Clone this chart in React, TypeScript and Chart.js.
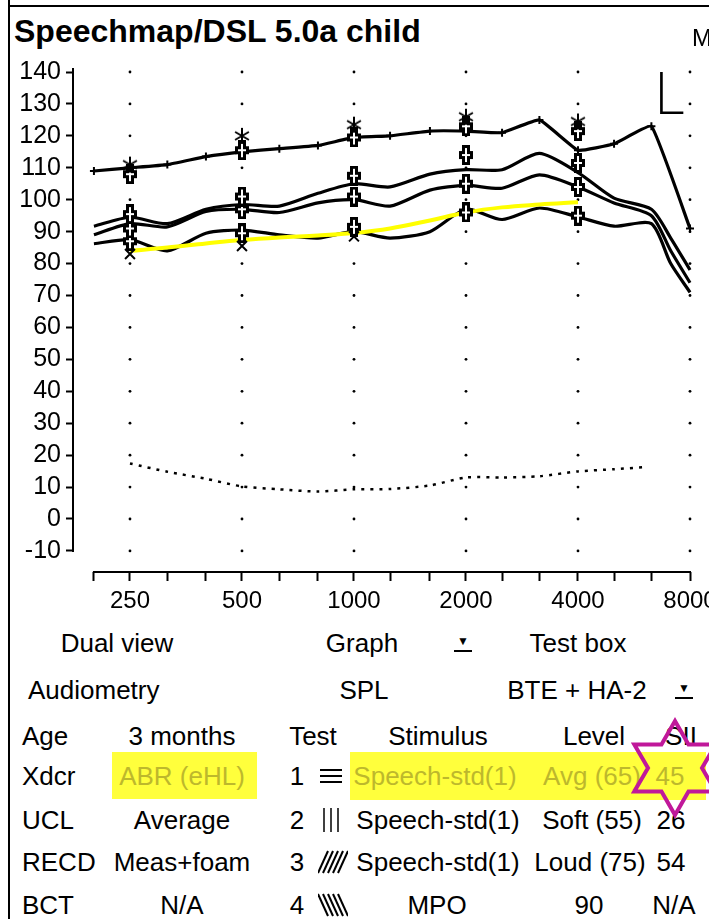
import React, { useEffect, useRef } from "react";
import { Chart, registerables } from "chart.js";
Chart.register(...registerables);

// ---------- data ----------
const thirdOctaveTicks = [200, 250, 315, 400, 500, 630, 800, 1000, 1250, 1600, 2000, 2500, 3150, 4000, 5000, 6300, 8000];
const octaveFreqs = [250, 500, 1000, 2000, 4000, 8000];
const octaveLabels = ["250", "500", "1000", "2000", "4000", "8000"];
const levelTicks = [140, 130, 120, 110, 100, 90, 80, 70, 60, 50, 40, 30, 20, 10, 0, -10];

const mpoFreqs = [200, 250, 315, 400, 500, 630, 800, 1000, 1250, 1600, 2000, 2500, 3150, 4000, 5000, 6300, 8000];
const mpoValues = [109, 110, 111, 113.5, 115, 116, 117, 119.5, 120, 121.5, 121.5, 121, 125, 115.5, 117.5, 123, 91];

const speechFreqs = [200, 250, 315, 400, 500, 630, 800, 1000, 1250, 1600, 2000, 2500, 3150, 4000, 5000, 6300, 7100, 8000];
const loudValues = [91.7, 94.5, 92.5, 97, 98.5, 98, 102, 105, 104, 108, 109.4, 109.4, 114.5, 108.5, 100.5, 97, 88, 78];
const avgValues = [89, 92.5, 91.5, 96.3, 97, 96, 99, 100, 98, 103, 104.5, 103.6, 107.8, 104, 99, 95, 84, 74];
const softValues = [86.2, 87.5, 84, 89.5, 90.5, 89, 88, 90, 88, 90, 97, 93.8, 97.4, 94.6, 91.7, 92.5, 80, 71];

const targetLineFreqs = [250, 315, 400, 500, 630, 800, 1000, 1250, 1600, 2000, 2500, 3150, 4000];
const targetLineValues = [84, 85, 86.3, 87.4, 88.2, 88.8, 89.6, 91, 93.5, 96, 97.6, 98.5, 99.2];

const thresholdFreqs = [250, 315, 400, 500, 630, 800, 1000, 1250, 1600, 2000, 2500, 3150, 4000, 5000, 6000];
const thresholdValues = [17.4, 14.8, 12.6, 10.2, 9.3, 8.6, 9.3, 9.4, 10.5, 13, 13, 13.4, 14.9, 15.6, 16.2];

const targetFreqs = [250, 500, 1000, 2000, 4000];
const uclTargets = [111, 120, 123.5, 126, 124.5];
const mpoTargets = [108, 115.5, 119.5, 123, 121.5];
const loudTargets = [95.5, 101, 107.5, 114, 111.5];
const avgTargets = [91, 97, 101, 105, 104];
const softTargets = [87, 89.5, 91.5, 96, 95];
const softXFreqs = [250, 500, 1000];
const softXValues = [83, 85.5, 88.5];

const FONT = '"Liberation Sans", Arial, sans-serif';

const pts = (xs: number[], ys: number[]) => xs.map((x, i) => ({ x, y: ys[i] }));

function makeBoxPlus() {
  const c = document.createElement("canvas");
  c.width = 14; c.height = 20;
  const g = c.getContext("2d")!;
  g.fillStyle = "#000";
  g.fillRect(3, 0, 8, 20);
  g.fillRect(0, 6, 14, 8);
  g.fillStyle = "#fff";
  g.fillRect(6, 3, 2, 14);
  g.fillRect(3, 9, 8, 2);
  return c;
}
function makeAsterisk() {
  const c = document.createElement("canvas");
  c.width = 18; c.height = 18;
  const g = c.getContext("2d")!;
  g.strokeStyle = "#000"; g.lineWidth = 2;
  g.beginPath();
  [90, 30, 150].forEach((a) => {
    const r = (a * Math.PI) / 180;
    g.moveTo(9 + 8 * Math.cos(r), 9 - 8 * Math.sin(r));
    g.lineTo(9 - 8 * Math.cos(r), 9 + 8 * Math.sin(r));
  });
  g.stroke();
  return c;
}

const axisLines = {
  id: "axisLines",
  afterDraw(chart: any) {
    const { ctx, chartArea, scales } = chart;
    const x = scales.x, y = scales.y;
    ctx.save();
    ctx.strokeStyle = "#000";
    ctx.lineWidth = 2;
    ctx.beginPath();
    ctx.moveTo(chartArea.left, y.getPixelForValue(levelTicks[0]) - 4);
    ctx.lineTo(chartArea.left, y.getPixelForValue(levelTicks[levelTicks.length - 1]) + 1);
    ctx.moveTo(x.getPixelForValue(thirdOctaveTicks[0]) - 1, chartArea.bottom);
    ctx.lineTo(x.getPixelForValue(thirdOctaveTicks[thirdOctaveTicks.length - 1]) + 1, chartArea.bottom);
    ctx.stroke();
    ctx.restore();
  },
};

function SpeechChart() {
  const ref = useRef<HTMLCanvasElement | null>(null);
  useEffect(() => {
    if (!ref.current) return;
    const boxPlus = makeBoxPlus();
    const aster = makeAsterisk();
    const gridDots: { x: number; y: number }[] = [];
    octaveFreqs.forEach((f) => levelTicks.forEach((l) => gridDots.push({ x: f, y: l })));
    const line = (data: any, extra: any = {}) => ({
      data, borderColor: "#000", borderWidth: 3.2, pointRadius: 0, tension: 0.25, fill: false, clip: false, ...extra,
    });
    const marks = (data: any, style: any, extra: any = {}) => ({
      data, showLine: false, pointStyle: style, pointRadius: 8, borderColor: "#000", backgroundColor: "#000", clip: false, ...extra,
    });
    const chart = new Chart(ref.current, {
      type: "line",
      data: {
        datasets: [
          marks(gridDots, "circle", { pointRadius: 1.4, borderWidth: 0, order: 20 }),
          line(pts(thresholdFreqs, thresholdValues), { borderWidth: 2.5, borderDash: [3, 6], order: 15 }),
          line(pts(mpoFreqs, mpoValues), { tension: 0.1, pointStyle: "cross", pointRadius: 4, pointBorderWidth: 2, order: 10 }),
          line(pts(speechFreqs, loudValues), { order: 9 }),
          line(pts(speechFreqs, avgValues), { order: 8 }),
          line(pts(speechFreqs, softValues), { order: 7 }),
          line(pts(targetLineFreqs, targetLineValues), { borderColor: "#ffff00", borderWidth: 4, tension: 0.4, order: 3 }),
          marks(pts(targetFreqs, uclTargets), aster, { order: 2 }),
          marks(pts(targetFreqs, mpoTargets), boxPlus, { order: 2 }),
          marks(pts(targetFreqs, loudTargets), boxPlus, { order: 2 }),
          marks(pts(targetFreqs, avgTargets), boxPlus, { order: 2 }),
          marks(pts(targetFreqs, softTargets), boxPlus, { order: 2 }),
          marks(pts(softXFreqs, softXValues), "crossRot", { pointRadius: 7, borderWidth: 2, order: 1 }),
        ],
      },
      options: {
        animation: false,
        responsive: false,
        devicePixelRatio: 1,
        events: [],
        layout: { padding: { top: 22, right: 40, left: 0, bottom: 0 } },
        plugins: { legend: { display: false }, tooltip: { enabled: false } },
        scales: {
          x: {
            type: "logarithmic",
            min: 175.7,
            max: 8000,
            afterBuildTicks: (s: any) => { s.ticks = thirdOctaveTicks.map((v) => ({ value: v })); },
            afterFit: (s: any) => { s.height = 53; },
            grid: { drawOnChartArea: false, drawTicks: true, tickLength: 9, color: "#000", tickWidth: 2 },
            border: { display: false },
            ticks: {
              autoSkip: false, maxRotation: 0, minRotation: 0, padding: 6, color: "#000",
              font: { family: FONT, size: 24 },
              callback: (v: any) => {
                const i = octaveFreqs.indexOf(Number(v));
                return i >= 0 ? octaveLabels[i] : "";
              },
            },
          },
          y: {
            min: -16.6,
            max: 140,
            afterBuildTicks: (s: any) => { s.ticks = levelTicks.map((v) => ({ value: v })); },
            afterFit: (s: any) => { s.width = 73; },
            grid: { drawOnChartArea: false, drawTicks: true, tickLength: 7, color: "#000", tickWidth: 2 },
            border: { display: false },
            ticks: { autoSkip: false, padding: 5, color: "#000", font: { family: FONT, size: 25 }, callback: (v: any) => String(v) },
          },
        },
      },
      plugins: [axisLines],
    } as any);
    return () => chart.destroy();
  }, []);
  return <canvas ref={ref} width={730} height={575} style={{ position: "absolute", left: 0, top: 50, width: 730, height: 575 }} />;
}

function T({ x, y, c, children, style }: any) {
  return (
    <span
      style={{
        position: "absolute", left: x, top: y, transform: c ? "translate(-50%,-50%)" : "translateY(-50%)",
        whiteSpace: "nowrap", fontFamily: FONT, fontSize: 26, lineHeight: 1, color: "#000", ...style,
      }}
    >
      {children}
    </span>
  );
}

function Pattern({ kind, x, y }: any) {
  const lines: any[] = [];
  if (kind === 1) [9, 15, 21].forEach((yy) => lines.push(<line key={yy} x1={2} y1={yy} x2={24} y2={yy} stroke="#000" strokeWidth={2} />));
  if (kind === 2) [6, 13, 20].forEach((xx) => lines.push(<line key={xx} x1={xx} y1={3} x2={xx} y2={27} stroke="#000" strokeWidth={1.5} />));
  if (kind === 3) [0, 5, 10, 15, 20].forEach((o) => lines.push(<line key={o} x1={o} y1={26} x2={o + 10} y2={4} stroke="#000" strokeWidth={2} />));
  if (kind === 4) [0, 5, 10, 15, 20].forEach((o) => lines.push(<line key={o} x1={o} y1={4} x2={o + 10} y2={26} stroke="#000" strokeWidth={2} />));
  return (
    <svg width={30} height={30} style={{ position: "absolute", left: x - 15, top: y - 15 }}>
      {lines}
    </svg>
  );
}

function Drop({ x, y }: any) {
  return (
    <span style={{ position: "absolute", left: x - 9, top: y - 9, width: 18, height: 16, borderBottom: "2px solid #000", fontSize: 12, lineHeight: "14px", textAlign: "center", fontFamily: FONT }}>▼</span>
  );
}

function starPoints(cx: number, cy: number, R: number, r: number, n: number, rot: number) {
  const p: string[] = [];
  for (let i = 0; i < 2 * n; i++) {
    const a = rot + (i * Math.PI) / n;
    const rr = i % 2 === 0 ? R : r;
    p.push(`${cx + rr * Math.sin(a)},${cy - rr * Math.cos(a)}`);
  }
  return p.join(" ");
}

export default function App() {
  const rows = [736, 776, 820, 862, 905];
  const hl = "#bdb82c";
  return (
    <div style={{ position: "absolute", left: 0, top: 0, width: 709, height: 919, overflow: "hidden", background: "#fff" }}>
      <div style={{ position: "absolute", left: 8, top: 0, width: 2, height: 919, background: "#000" }} />
      <div style={{ position: "absolute", left: 8, top: 5, width: 701, height: 2, background: "#000" }} />
      <SpeechChart />
      <T x={14} y={31} style={{ fontWeight: "bold", fontSize: 32 }}>Speechmap/DSL 5.0a child</T>
      <T x={692} y={38} style={{ fontSize: 24 }}>M</T>
      <T x={654} y={93} style={{ fontFamily: "Inter, sans-serif", fontWeight: 200, fontSize: 58 }}>L</T>

      <T x={117} y={643} c>Dual view</T>
      <T x={362} y={643} c>Graph</T>
      <Drop x={463} y={643} />
      <T x={578} y={643} c>Test box</T>

      <T x={28} y={690}>Audiometry</T>
      <T x={364} y={690} c>SPL</T>
      <T x={577} y={690} c>BTE + HA-2</T>
      <Drop x={684} y={690} />

      <div style={{ position: "absolute", left: 112, top: 752, width: 145, height: 47, background: "#ffff3c" }} />
      <div style={{ position: "absolute", left: 350, top: 752, width: 356, height: 48, background: "#ffff3c" }} />

      <T x={22} y={rows[0]}>Age</T>
      <T x={22} y={rows[1]}>Xdcr</T>
      <T x={22} y={rows[2]}>UCL</T>
      <T x={22} y={rows[3]}>RECD</T>
      <T x={22} y={rows[4]}>BCT</T>

      <T x={182} y={rows[0]} c>3 months</T>
      <T x={182} y={rows[1]} c style={{ color: hl }}>ABR (eHL)</T>
      <T x={182} y={rows[2]} c>Average</T>
      <T x={182} y={rows[3]} c>Meas+foam</T>
      <T x={182} y={rows[4]} c>N/A</T>

      <T x={313} y={rows[0]} c>Test</T>
      {[1, 2, 3, 4].map((n, i) => (
        <React.Fragment key={n}>
          <T x={297} y={rows[i + 1]} c>{String(n)}</T>
          <Pattern kind={n} x={333} y={rows[i + 1]} />
        </React.Fragment>
      ))}

      <T x={438} y={rows[0]} c>Stimulus</T>
      <T x={435} y={rows[1]} c style={{ color: hl }}>Speech-std(1)</T>
      <T x={438} y={rows[2]} c>Speech-std(1)</T>
      <T x={438} y={rows[3]} c>Speech-std(1)</T>
      <T x={437} y={rows[4]} c>MPO</T>

      <T x={594} y={rows[0]} c>Level</T>
      <T x={592} y={rows[1]} c style={{ color: hl }}>Avg (65)</T>
      <T x={592} y={rows[2]} c>Soft (55)</T>
      <T x={590} y={rows[3]} c>Loud (75)</T>
      <T x={589} y={rows[4]} c>90</T>

      <T x={681} y={rows[0]} c>SII</T>
      <T x={670} y={rows[1]} c style={{ color: hl }}>45</T>
      <T x={671} y={rows[2]} c>26</T>
      <T x={671} y={rows[3]} c>54</T>
      <T x={674} y={rows[4]} c>N/A</T>

      <svg width={709} height={919} style={{ position: "absolute", left: 0, top: 0, pointerEvents: "none" }}>
        <polygon points={starPoints(675, 768, 47, 27, 6, 0)} fill="none" stroke="#c0189a" strokeWidth={4} strokeLinejoin="miter" />
      </svg>
    </div>
  );
}
